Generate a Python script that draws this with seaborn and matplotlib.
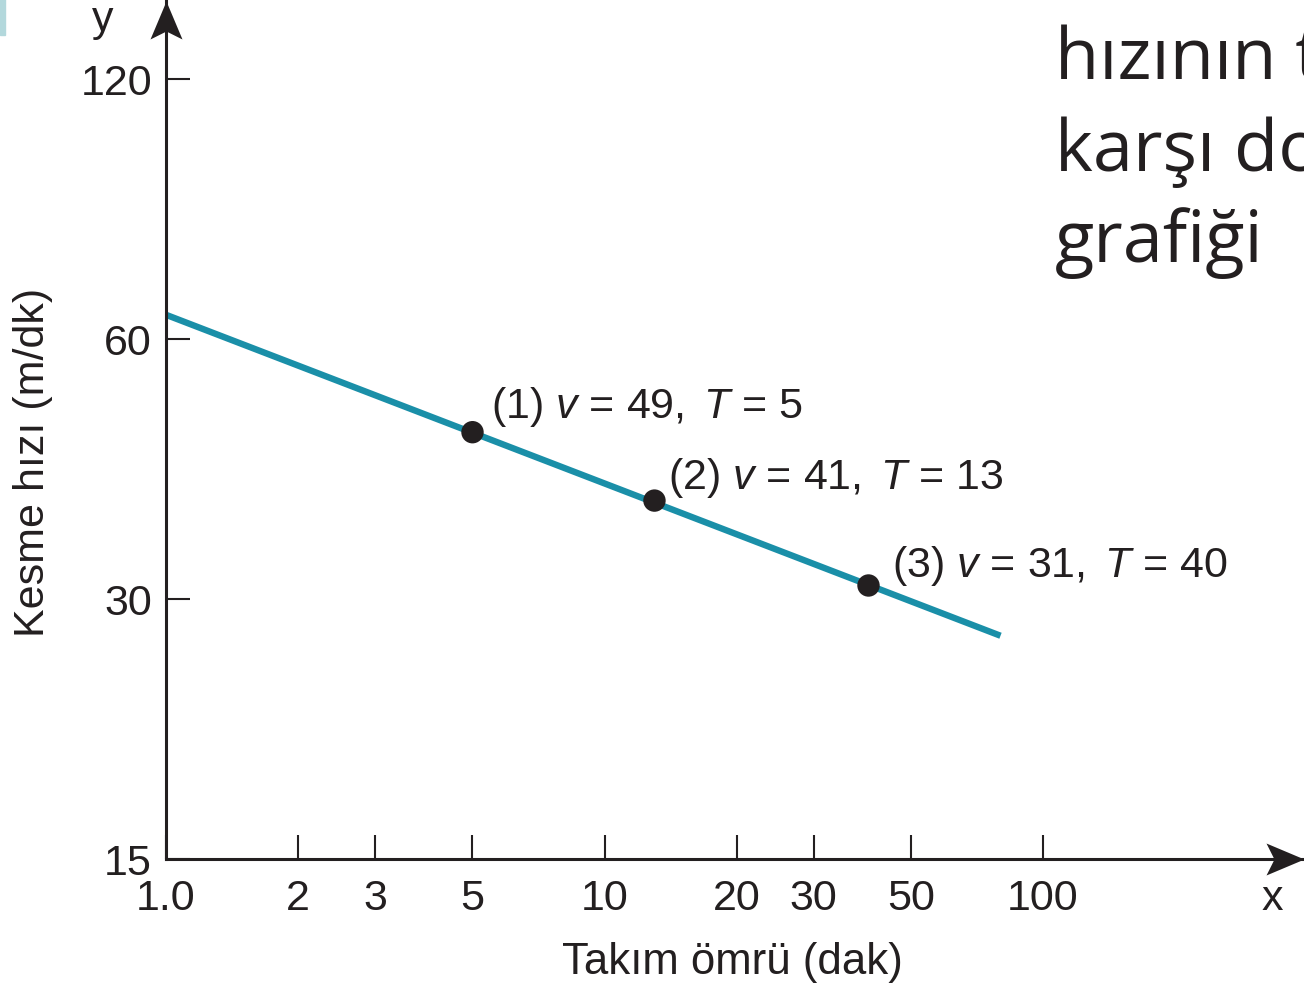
import matplotlib
matplotlib.use('Agg')
import matplotlib.pyplot as plt
from matplotlib.path import Path
from matplotlib.patches import Rectangle
from matplotlib.ticker import NullLocator
import seaborn as sns

# -----------------------------------------------------------
# Values (log-log Taylor tool life chart)
# -----------------------------------------------------------
tool_life_line = [1.0, 80.0]          # T (dak) at line ends
speed_line = [64.0, 27.2]             # v (m/dk) at line ends
tool_life_pts = [5, 13, 40]
speed_pts = [46.8, 39.0, 31.1]
point_labels = [r'(1) $v$ = 49, $\,T$ = 5',
                r'(2) $v$ = 41, $\,T$ = 13',
                r'(3) $v$ = 31, $\,T$ = 40']
x_ticks = [1, 2, 3, 5, 10, 20, 30, 50, 100]
x_tick_labels = ['1.0', '2', '3', '5', '10', '20', '30', '50', '100']
y_ticks = [15, 30, 60, 120]
y_tick_labels = ['15', '30', '60', '120']
side_text = ['hızının t', 'karşı do', 'grafiği']

# label offsets in points (layout only)
label_offsets = [(13, 11), (10, 9), (17, 7)]

W, H = 1304, 987
ink = '#231f20'
teal = '#1a8fa8'

sns.set_style('ticks')
plt.rcParams['font.family'] = ['Liberation Sans', 'DejaVu Sans']
plt.rcParams['mathtext.fontset'] = 'custom'
plt.rcParams['mathtext.rm'] = 'Liberation Sans'
plt.rcParams['mathtext.it'] = 'Liberation Sans:italic'

fig = plt.figure(figsize=(W / 100, H / 100), dpi=100)
ax = fig.add_axes([166 / W, 127 / H, 1138 / W, 858 / H])
ax.set_xscale('log')
ax.set_yscale('log')
ax.set_xlim(1, 10 ** (1138 / 438.5))
ax.set_ylim(15, 15 * 2 ** (858 / 260))

# line and points
sns.lineplot(x=tool_life_line, y=speed_line, ax=ax, color=teal, lw=4.6,
             solid_capstyle='butt', zorder=2)
sns.scatterplot(x=tool_life_pts, y=speed_pts, ax=ax, s=260, color=ink,
                edgecolor='none', zorder=3)

for t, v, lab, off in zip(tool_life_pts, speed_pts, point_labels, label_offsets):
    ax.annotate(lab, xy=(t, v), xytext=off, textcoords='offset points',
                ha='left', va='baseline', fontsize=31, color=ink)

# ticks
ax.set_xticks(x_ticks, labels=x_tick_labels)
ax.set_yticks(y_ticks, labels=y_tick_labels)
ax.xaxis.set_minor_locator(NullLocator())
ax.yaxis.set_minor_locator(NullLocator())
ax.tick_params(direction='in', length=17, width=1.5, color=ink,
               labelsize=31, labelcolor=ink)
ax.tick_params(axis='x', pad=14)
ax.tick_params(axis='y', pad=10)

# spines with arrow heads
sns.despine(ax=ax)
for s in ['left', 'bottom']:
    ax.spines[s].set_linewidth(2.2)
    ax.spines[s].set_color(ink)

up = Path([(0, 0), (-16, -38), (0, -30), (16, -38), (0, 0)],
          [Path.MOVETO, Path.LINETO, Path.LINETO, Path.LINETO, Path.CLOSEPOLY])
right = Path([(0, 0), (-38, 16), (-30, 0), (-38, -16), (0, 0)],
             [Path.MOVETO, Path.LINETO, Path.LINETO, Path.LINETO, Path.CLOSEPOLY])
ax.plot([0], [1], marker=up, markersize=54.7, color=ink, mec='none',
        transform=ax.transAxes, clip_on=False, zorder=5)
ax.plot([1], [0], marker=right, markersize=54.7, color=ink, mec='none',
        transform=ax.transAxes, clip_on=False, zorder=5)

# axis labels
fig.text(732 / W, 1 - 963 / H, 'Takım ömrü (dak)', ha='center', va='center',
         fontsize=31.5, color=ink)
fig.text(33 / W, 1 - 462 / H, 'Kesme hızı (m/dk)', ha='center', va='center',
         rotation=90, fontsize=31, color=ink)
fig.text(103 / W, 1 - 31 / H, 'y', ha='center', va='baseline', fontsize=31, color=ink)
fig.text(1272 / W, 1 - 910 / H, 'x', ha='center', va='baseline', fontsize=31, color=ink)

# cropped page text at the top right
for i, s in enumerate(side_text):
    fig.text(1055 / W, 1 - (80 + 91 * i) / H, s, ha='left', va='baseline',
             fontsize=52, family='Open Sans', color=ink)

# small teal page mark at the top left
fig.patches.append(Rectangle((0, 1 - 36 / H), 5 / W, 36 / H,
                             transform=fig.transFigure, color='#b3d8dc'))

fig.savefig('out.png', dpi=100)
